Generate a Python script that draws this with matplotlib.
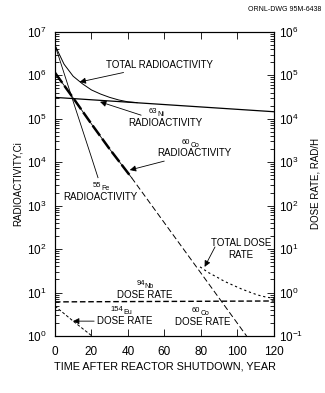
import matplotlib
matplotlib.use("Agg")
import matplotlib.pyplot as plt

plt.rcParams["font.family"] = ["Liberation Sans", "DejaVu Sans"]

# radioactivity, Ci (left axis)
total_t = [0, 2, 5, 10, 15, 20, 25, 30, 35, 40, 45]
total_ci = [5.0e6, 3.3e6, 1.8e6, 9.5e5, 6.4e5, 4.6e5, 3.7e5, 3.1e5, 2.7e5, 2.45e5, 2.35e5]

ni63_t = [0, 120]
ni63_ci = [3.1e5, 1.45e5]

fe55_t = [0, 10, 20, 23.6]
fe55_ci = [5.0e6, 2.5e5, 1.3e4, 4.4e3]

co60_t = [0, 10, 20, 30, 42]
co60_ci = [1.15e6, 3.0e5, 7.6e4, 2.0e4, 4.4e3]

# 60Co tail, also the 60Co dose rate line
co60_tail_t = [42, 60, 80, 105]
co60_tail_ci = [4.4e3, 4.0e2, 2.8e1, 1.0]

# dose rate, rad/h (right axis)
nb94_t = [0, 120]
nb94_rad = [0.61, 0.64]

eu154_t = [0, 10, 20.3]
eu154_rad = [0.49, 0.22, 0.1]

total_dose_t = [79.5, 84, 88.8, 93, 97.5, 102, 106.8, 111, 116, 120]
total_dose_rad = [3.9, 2.9, 2.26, 1.8, 1.48, 1.22, 1.02, 0.88, 0.78, 0.74]

fig = plt.figure(figsize=(3.25, 3.93), dpi=100)
ax = fig.add_axes([0.169, 0.145, 0.674, 0.774])
ax2 = ax.twinx()

ax.set_yscale("log")
ax2.set_yscale("log")
ax.set_xlim(0, 120)
ax.set_ylim(1, 1e7)
ax2.set_ylim(0.1, 1e6)

ax.plot(total_t, total_ci, color="k", lw=0.7)
ax.plot(ni63_t, ni63_ci, color="k", lw=0.9)
ax.plot(fe55_t, fe55_ci, color="k", lw=0.6)
ax.plot(co60_t, co60_ci, color="k", lw=0.6)
ax.plot(co60_t, co60_ci, color="k", lw=1.8, dashes=(5, 1.5))
ax.plot(co60_tail_t, co60_tail_ci, color="k", lw=0.7, dashes=(6, 3))

ax2.plot(nb94_t, nb94_rad, color="k", lw=1.0, dashes=(4, 2))
ax2.plot(eu154_t, eu154_rad, color="k", lw=0.7, dashes=(3, 2))
ax2.plot(total_dose_t, total_dose_rad, color="k", lw=0.8, dashes=(2, 2.5))

for a in (ax, ax2):
    a.tick_params(which="both", direction="in", labelsize=8.5, width=0.6)
    a.tick_params(which="major", length=5)
    a.tick_params(which="minor", length=3)
ax.tick_params(top=True, pad=6)
ax.tick_params(axis="x", pad=7)
ax.set_xticks([0, 20, 40, 60, 80, 100, 120])
ax.set_yticks([10.0 ** k for k in range(0, 8)])
ax2.set_yticks([10.0 ** k for k in range(-1, 7)])
for a in (ax, ax2):
    for s in a.spines.values():
        s.set_linewidth(0.8)

ax.set_xlabel("TIME AFTER REACTOR SHUTDOWN, YEAR", fontsize=7.8, labelpad=3)
ax.set_ylabel("RADIOACTIVITY,Ci", fontsize=7, labelpad=3)
ax2.set_ylabel("DOSE RATE, RAD/H", fontsize=7, labelpad=5)

fig.text(0.99, 0.985, "ORNL-DWG 95M-6438", fontsize=5, ha="right", va="top")

arrow = dict(arrowstyle="-|>", lw=0.6, color="k", mutation_scale=9, shrinkA=0, shrinkB=0)
fs = 7


def iso_label(x, y, mass, element):
    # mass number raised, element symbol a little lower, both small
    ax.annotate(mass, (x, y), xytext=(0.3, 2.2), textcoords="offset points",
                fontsize=5.5, ha="right", va="bottom")
    ax.annotate(element, (x, y), xytext=(0.3, 0), textcoords="offset points",
                fontsize=5, ha="left", va="bottom")


ax.annotate("TOTAL RADIOACTIVITY", xy=(13.5, 7.0e5), xytext=(28, 1.75e6),
            fontsize=fs, va="center", ha="left", arrowprops=arrow)

iso_label(56, 1.02e5, "63", "Ni")
ax.annotate("RADIOACTIVITY", xy=(24.7, 2.45e5), xytext=(40, 8.0e4),
            fontsize=fs, va="center", ha="left", arrowprops=arrow)

iso_label(74, 2.05e4, "60", "Co")
ax.annotate("RADIOACTIVITY", xy=(41, 6.6e3), xytext=(56, 1.6e4),
            fontsize=fs, va="center", ha="left", arrowprops=arrow)

iso_label(25, 2.05e3, "55", "Fe")
ax.text(25, 1.6e3, "RADIOACTIVITY", fontsize=fs, ha="center", va="center")

ax.text(102, 138, "TOTAL DOSE", fontsize=fs, ha="center", va="center")
ax.text(102, 72, "RATE", fontsize=fs, ha="center", va="center")
ax.annotate("", xy=(82, 39), xytext=(87.7, 112), arrowprops=arrow)

iso_label(49, 11.2, "94", "Nb")
ax.text(49, 8.7, "DOSE RATE", fontsize=fs, ha="center", va="center")

iso_label(37, 2.85, "154", "Eu")
ax.annotate("DOSE RATE", xy=(9.9, 2.2), xytext=(23, 2.2),
            fontsize=fs, ha="left", va="center", arrowprops=arrow)

iso_label(79.5, 2.75, "60", "Co")
ax.text(81, 2.1, "DOSE RATE", fontsize=fs, ha="center", va="center")

fig.savefig("out.png", dpi=100)
